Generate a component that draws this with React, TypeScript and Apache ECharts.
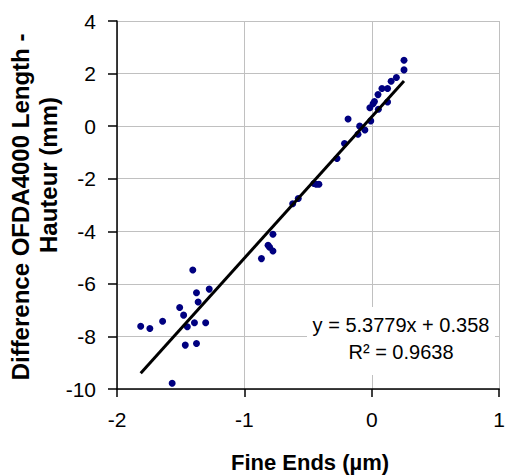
import React, { useEffect, useRef } from "react";
import * as echarts from "echarts";

const xValues = [
  0.253, 0.253, 0.193, 0.152, 0.124, 0.08, 0.049, 0.021, 0.01, -0.015, 0.124, 0.052,
  -0.008, -0.186, -0.095, -0.108, -0.054, -0.214, -0.273, -0.436, -0.415, -0.454,
  -0.577, -0.621, -0.776, -0.814, -0.802, -0.776, -0.866, -1.405, -1.276, -1.376,
  -1.363, -1.508, -1.477, -1.642, -1.392, -1.304, -1.448, -1.814, -1.742, -1.464,
  -1.376, -1.567,
];
const yValues = [
  2.51, 2.14, 1.85, 1.71, 1.43, 1.43, 1.2, 0.94, 0.85, 0.7, 0.92, 0.64, 0.2, 0.27, 0.0,
  -0.31, -0.15, -0.66, -1.23, -2.21, -2.21, -2.18, -2.75, -2.95, -4.11, -4.53, -4.61,
  -4.75, -5.04, -5.47, -6.2, -6.34, -6.69, -6.9, -7.19, -7.42, -7.48, -7.48, -7.63,
  -7.61, -7.7, -8.33, -8.27, -9.78,
];
const slope = 5.3779;
const intercept = 0.358;
const rSquared = 0.9638;
const xTicks = [-2, -1, 0, 1];
const yTicks = [-10, -8, -6, -4, -2, 0, 2, 4];

const FONT = "Liberation Sans, Arial, sans-serif";

export default function App() {
  const ref = useRef<HTMLDivElement>(null);
  useEffect(() => {
    document.body.style.margin = "0";
    if (!ref.current) return;
    const chart = echarts.init(ref.current, undefined, { renderer: "svg" });
    const points = xValues.map((x, i) => [x, yValues[i]]);
    const xMin = Math.min(...xValues);
    const xMax = Math.max(...xValues);
    const trend = [
      [xMin, slope * xMin + intercept],
      [xMax, slope * xMax + intercept],
    ];
    chart.setOption({
      animation: false,
      backgroundColor: "#ffffff",
      grid: { left: 117, top: 21, right: 4, bottom: 86, containLabel: false },
      xAxis: {
        type: "value",
        min: xTicks[0],
        max: xTicks[xTicks.length - 1],
        interval: 1,
        axisLine: { onZero: false, lineStyle: { color: "#000", width: 1.5 } },
        axisTick: { show: true, length: 8, lineStyle: { color: "#000", width: 1.5 } },
        axisLabel: { fontFamily: FONT, fontSize: 21, color: "#000", margin: 20 },
        splitLine: { show: true, lineStyle: { color: "#c0c0c0", width: 1 } },
      },
      yAxis: {
        type: "value",
        min: yTicks[0],
        max: yTicks[yTicks.length - 1],
        interval: 2,
        axisLine: { show: true, onZero: false, lineStyle: { color: "#000", width: 1.5 } },
        axisTick: { show: true, length: 9, lineStyle: { color: "#000", width: 1.5 } },
        axisLabel: { fontFamily: FONT, fontSize: 21, color: "#000", margin: 21 },
        splitLine: { show: true, lineStyle: { color: "#c0c0c0", width: 1 } },
      },
      series: [
        {
          type: "scatter",
          data: points,
          symbol: "circle",
          symbolSize: 7,
          itemStyle: { color: "#000080", opacity: 1 },
          z: 3,
        },
        {
          type: "line",
          data: trend,
          showSymbol: false,
          symbol: "none",
          lineStyle: { color: "#000", width: 3 },
          z: 4,
        },
      ],
      graphic: [
        {
          type: "rect",
          shape: { x: 307, y: 307, width: 188, height: 68 },
          style: { fill: "#ffffff" },
          z: 10,
        },
        {
          type: "text",
          x: 401,
          y: 325,
          style: {
            text: `y = ${slope}x + ${intercept}`,
            fontFamily: FONT,
            fontSize: 20,
            fill: "#000",
            align: "center",
            verticalAlign: "middle",
          },
          z: 11,
        },
        {
          type: "text",
          x: 401,
          y: 352,
          style: {
            text: `R² = ${rSquared}`,
            fontFamily: FONT,
            fontSize: 20,
            fill: "#000",
            align: "center",
            verticalAlign: "middle",
          },
          z: 11,
        },
        {
          type: "text",
          x: 20,
          y: 207,
          rotation: Math.PI / 2,
          style: {
            text: "Difference OFDA4000 Length -",
            fontFamily: FONT,
            fontWeight: "bold",
            fontSize: 24,
            fill: "#000",
            align: "center",
            verticalAlign: "middle",
          },
        },
        {
          type: "text",
          x: 48,
          y: 175,
          rotation: Math.PI / 2,
          style: {
            text: "Hauteur (mm)",
            fontFamily: FONT,
            fontWeight: "bold",
            fontSize: 24,
            fill: "#000",
            align: "center",
            verticalAlign: "middle",
          },
        },
        {
          type: "text",
          x: 310,
          y: 462,
          style: {
            text: "Fine Ends (µm)",
            fontFamily: FONT,
            fontWeight: "bold",
            fontSize: 22,
            fill: "#000",
            align: "center",
            verticalAlign: "middle",
          },
        },
      ],
    });
    return () => chart.dispose();
  }, []);
  return <div ref={ref} style={{ width: 508, height: 475 }} />;
}
